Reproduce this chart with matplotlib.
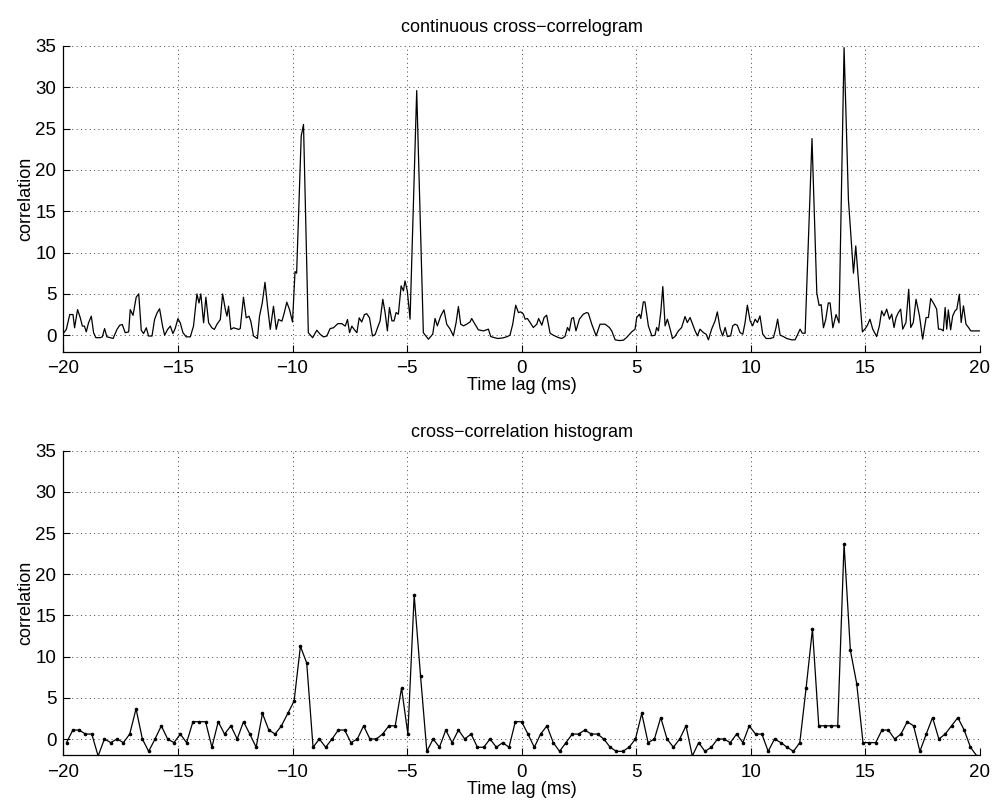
# %% imports

import numpy as np
import matplotlib
matplotlib.use("Agg")
import matplotlib.pyplot as plt


# %% data

# continuous cross-correlogram: time lag (ms) and correlation
cc_lag = [-19.98, -19.87, -19.72, -19.58, -19.51, -19.38, -19.26, -19.17, -19.08, -19.00,
          -18.90, -18.78, -18.68, -18.58, -18.39, -18.30, -18.20, -18.10, -17.95, -17.83,
          -17.66, -17.54, -17.43, -17.30, -17.15, -17.08, -16.96, -16.82, -16.71, -16.60,
          -16.50, -16.38, -16.28, -16.13, -16.02, -15.91, -15.80, -15.67, -15.58, -15.45,
          -15.33, -15.22, -15.12, -15.00, -14.90, -14.78, -14.64, -14.46, -14.32, -14.17,
          -14.08, -14.00, -13.88, -13.78, -13.66, -13.52, -13.41, -13.30, -13.15, -13.05,
          -12.93, -12.86, -12.79, -12.69, -12.57, -12.46, -12.35, -12.28, -12.14, -12.02,
          -11.90, -11.82, -11.70, -11.53, -11.44, -11.32, -11.20, -11.09, -10.97, -10.83,
          -10.71, -10.61, -10.46, -10.36, -10.25, -10.13, -10.00, -9.89, -9.82, -9.62,
          -9.52, -9.31, -9.12, -8.94, -8.79, -8.65, -8.50, -8.36, -8.21, -8.02,
          -7.85, -7.70, -7.60, -7.51, -7.41, -7.31, -7.19, -7.09, -6.98, -6.86,
          -6.76, -6.64, -6.51, -6.39, -6.29, -6.18, -6.06, -5.96, -5.86, -5.77,
          -5.66, -5.57, -5.48, -5.38, -5.26, -5.16, -5.09, -4.99, -4.87, -4.58,
          -4.29, -4.07, -3.88, -3.78, -3.68, -3.53, -3.39, -3.27, -3.12, -2.98,
          -2.86, -2.76, -2.66, -2.54, -2.40, -2.25, -2.18, -2.08, -1.89, -1.67,
          -1.45, -1.35, -1.16, -1.02, -0.80, -0.62, -0.51, -0.39, -0.26, -0.14,
          -0.04, 0.08, 0.15, 0.25, 0.37, 0.51, 0.66, 0.74, 0.88, 0.98,
          1.09, 1.24, 1.38, 1.60, 1.75, 1.89, 2.00, 2.08, 2.18, 2.26,
          2.37, 2.52, 2.69, 2.84, 2.91, 3.06, 3.25, 3.42, 3.64, 3.83,
          3.93, 4.08, 4.26, 4.44, 4.58, 4.80, 4.95, 5.02, 5.14, 5.20,
          5.31, 5.38, 5.53, 5.68, 5.82, 5.89, 5.97, 6.07, 6.16, 6.26,
          6.36, 6.48, 6.58, 6.69, 6.84, 6.98, 7.13, 7.23, 7.35, 7.46,
          7.57, 7.67, 7.78, 7.93, 8.05, 8.15, 8.29, 8.44, 8.54, 8.66,
          8.77, 8.88, 8.98, 9.12, 9.21, 9.31, 9.41, 9.53, 9.65, 9.75,
          9.85, 9.97, 10.08, 10.19, 10.29, 10.40, 10.52, 10.67, 10.84, 10.99,
          11.10, 11.17, 11.28, 11.42, 11.57, 11.78, 11.93, 12.03, 12.15, 12.25,
          12.37, 12.67, 12.88, 12.98, 13.07, 13.17, 13.27, 13.38, 13.46, 13.58,
          13.72, 13.85, 14.07, 14.26, 14.48, 14.58, 14.87, 15.00, 15.09, 15.20,
          15.32, 15.49, 15.61, 15.71, 15.81, 15.93, 16.05, 16.15, 16.25, 16.34,
          16.44, 16.54, 16.63, 16.77, 16.89, 16.98, 17.09, 17.21, 17.36, 17.50,
          17.65, 17.75, 17.85, 18.00, 18.11, 18.19, 18.29, 18.40, 18.48, 18.55,
          18.62, 18.72, 18.81, 18.91, 18.99, 19.10, 19.18, 19.28, 19.39, 19.50,
          19.60, 19.71, 20.00]

cc_val = [0.3, 0.7, 2.5, 2.5, 0.9, 3.1, 2.1, 1.1, 1.1, 0.4,
          1.5, 2.3, 0.3, -0.3, -0.3, -0.2, 0.8, -0.2, -0.3, -0.4,
          0.7, 1.2, 1.3, 0.3, 0.4, 3.1, 2.4, 4.6, 5.0, 0.6,
          0.2, 0.9, -0.1, -0.1, 1.9, 2.7, 3.2, 1.1, 0.0, 0.7,
          1.1, 0.2, 0.8, 2.0, 1.5, 0.3, -0.2, -0.2, 1.1, 5.0,
          3.9, 5.0, 1.5, 4.6, 1.5, 0.9, 0.7, 1.3, 1.9, 5.0,
          3.1, 2.3, 3.5, 0.7, 0.9, 0.8, 0.7, 0.8, 4.6, 2.1,
          2.3, 1.7, -0.1, -0.4, 2.3, 3.9, 6.4, 3.5, 0.7, 3.5,
          0.7, 1.9, 1.7, 2.7, 4.0, 3.1, 1.6, 7.7, 7.5, 24.1,
          25.5, 0.3, -0.3, 0.6, 0.1, -0.2, -0.1, 0.8, 0.9, 1.4,
          1.4, 1.1, 1.9, 0.3, 1.1, 0.7, 0.3, 2.1, 1.6, 2.5,
          2.6, 2.1, -0.1, 0.1, 0.9, 1.7, 4.35, 2.74, 0.52, 3.35,
          1.73, 1.73, 2.74, 2.54, 5.97, 5.36, 6.57, 5.36, 1.94, 29.6,
          0.3, -0.48, 0.12, 2.02, 1.13, 2.34, 3.06, 1.33, 0.73, -0.08,
          1.53, 3.47, 1.33, 1.13, 1.33, 1.61, 2.02, 1.53, 0.65, 0.52,
          0.73, -0.16, -0.32, -0.40, -0.32, -0.16, 0.0, 1.33, 3.63, 2.74,
          2.82, 2.54, 1.94, 2.02, 1.53, 0.93, 1.33, 2.02, 1.21, 2.14,
          2.42, 0.24, 0.0, -0.28, -0.40, -0.16, 0.93, 0.52, 2.02, 2.14,
          0.52, 1.94, 2.54, 2.74, 2.66, 1.33, -0.08, 1.33, 1.33, 0.93,
          0.52, -0.56, -0.65, -0.60, -0.28, 0.40, 0.73, 2.14, 2.54, 2.02,
          4.03, 4.03, 1.13, -0.08, 0.0, 0.93, 0.52, 2.74, 5.89, 1.13,
          1.94, 0.73, -0.40, -0.16, 0.52, 0.93, 2.26, 1.53, 2.14, 1.33,
          0.52, -0.08, 0.73, 0.32, 0.12, -0.56, 0.73, 1.73, 2.82, 0.81,
          -0.08, 0.93, -0.16, -0.08, 1.13, 1.33, 1.21, 0.32, 0.12, 1.53,
          3.63, 1.73, 1.13, 1.94, 1.53, 2.34, 0.12, -0.40, -0.40, -0.28,
          0.93, 1.94, 0.0, -0.16, -0.40, -0.56, -0.56, 0.0, 0.73, 0.24,
          0.24, 23.8, 5.1, 3.6, 3.7, 0.9, 1.9, 3.9, 3.9, 0.9,
          2.5, 1.5, 34.8, 16.4, 7.5, 10.8, 0.4, 0.81, 1.21, 1.94,
          0.73, -0.16, 1.13, 2.94, 2.34, 3.15, 1.94, 2.54, 0.93, 2.14,
          2.74, 3.15, 0.73, 1.53, 5.56, 0.93, 1.53, 4.35, 2.34, -0.48,
          2.14, 2.14, 4.44, 3.75, 3.15, 0.73, 0.73, 0.52, 3.35, 0.73,
          3.06, 0.65, 2.34, 2.94, 3.15, 4.96, 1.53, 3.55, 1.33, 0.93,
          0.52, 0.52, 0.52]

# cross-correlation histogram: one value per bin, 145 bins over -20..20 ms
hist_val = [-0.44, 1.09, 1.09, 0.6, 0.6, -2.06, 0.0, -0.44, 0.0, -0.44,
            0.6, 3.67, 0.0, -1.5, 0.0, 1.6, 0.0, -0.44, 0.6, -0.44,
            2.1, 2.1, 2.1, -1.0, 2.1, 0.6, 1.6, 0.0, 2.1, 0.6,
            -1.0, 3.1, 1.09, 0.6, 1.6, 3.1, 4.6, 11.25, 9.23, -1.0,
            0.0, -1.0, 0.0, 1.09, 1.09, -0.44, 0.0, 1.6, 0.0, 0.0,
            0.6, 1.6, 1.6, 6.2, 0.6, 17.46, 7.7, -1.5, 0.0, -1.0,
            1.09, -0.44, 1.09, 0.0, 0.6, -1.0, -1.0, 0.0, -1.0, -0.44,
            -1.0, 2.1, 2.1, 0.6, -1.0, 0.6, 1.6, -0.44, -1.5, -0.44,
            0.6, 0.6, 1.09, 0.6, 0.6, 0.0, -1.0, -1.5, -1.5, -1.0,
            0.0, 3.1, -0.44, 0.0, 2.6, 0.0, -1.0, 0.0, 1.6, -2.06,
            -0.44, -1.5, -1.0, 0.0, 0.0, -0.44, 0.6, -0.44, 1.6, 0.6,
            0.6, -1.5, 0.0, -0.44, -1.0, -1.5, -0.44, 6.2, 13.35, 1.6,
            1.6, 1.6, 1.6, 23.7, 10.77, 6.73, -0.44, -0.44, -0.44, 1.09,
            1.09, 0.0, 0.6, 2.1, 1.6, -1.5, 0.6, 2.6, 0.0, 0.6,
            1.6, 2.6, 1.09, -1.0, -2.06]

n_bins = len(hist_val)
bin_w = 40.0 / n_bins
hist_lag = -20 + (np.arange(n_bins) + 0.5) * bin_w

x_ticks = list(range(-20, 21, 5))
y_ticks = list(range(0, 36, 5))


# %% style

plt.rcParams.update({"font.family": ["Liberation Sans", "DejaVu Sans"],
                     "font.size": 13,
                     "axes.unicode_minus": True})


def style_axes(ax, title):
    ax.set_xlim(-20, 20)
    ax.set_ylim(-2, 35)
    ax.set_xticks(x_ticks)
    ax.set_yticks(y_ticks)
    ax.grid(True, linestyle=(0, (1, 3.5)), color="#444444", linewidth=0.7)
    ax.tick_params(direction="in", length=5, width=0.8, pad=5, labelsize=13.5)
    ax.tick_params(axis="x", pad=6)
    ax.spines["top"].set_visible(False)
    ax.spines["right"].set_visible(False)
    ax.spines["left"].set_linewidth(0.9)
    ax.spines["bottom"].set_linewidth(0.9)
    ax.set_xlabel("Time lag (ms)", fontsize=13, labelpad=0)
    ax.set_ylabel("correlation", fontsize=13, labelpad=1)
    ax.set_title(title, fontsize=13, pad=10)


# %% figure

fig = plt.figure(figsize=(9.96, 8.08), dpi=100)

ax1 = fig.add_axes([0.0636, 0.5647, 0.9203, 0.3784])
ax1.plot(cc_lag, cc_val, color="black", linewidth=0.9)
style_axes(ax1, "continuous cross\u2212correlogram")

ax2 = fig.add_axes([0.0636, 0.0650, 0.9203, 0.3772])
ax2.plot(hist_lag, hist_val, color="black", linewidth=0.9, marker=".", markersize=3.2)
style_axes(ax2, "cross\u2212correlation histogram")

fig.savefig("out.png", dpi=100)
